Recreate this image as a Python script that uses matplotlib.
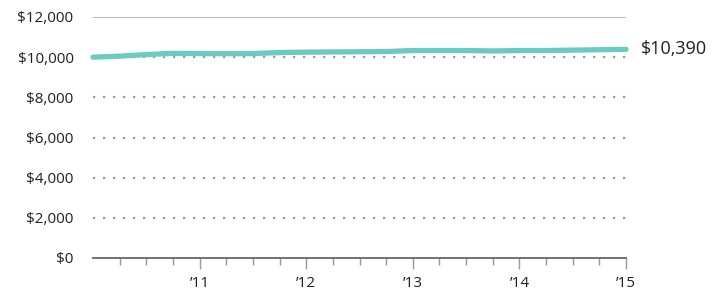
import matplotlib
matplotlib.use("Agg")
import matplotlib.pyplot as plt
import numpy as np

# quarterly values, 2010.0 -> 2015.0
quarters = np.arange(21) / 4.0 + 2010
values = [10000, 10050, 10130, 10190, 10180, 10170, 10180, 10230, 10250, 10260,
          10270, 10280, 10330, 10330, 10330, 10310, 10330, 10330, 10350, 10370, 10390]
y_ticks = [0, 2000, 4000, 6000, 8000, 10000, 12000]
year_ticks = [2011, 2012, 2013, 2014, 2015]
year_labels = ["\u201911", "\u201912", "\u201913", "\u201914", "\u201915"]
end_label = "$10,390"

plt.rcParams['font.family'] = ['Open Sans', 'DejaVu Sans']

fig = plt.figure(figsize=(7.28, 2.92), dpi=100)
ax = fig.add_axes([93/728, 1-258/292, (626-93)/728, (258-17)/292])

grid_col = '#9a9a9a'
for v in y_ticks[1:-1]:
    ax.axhline(v, color=grid_col, linestyle=(0, (1, 3.5)), linewidth=1.6, zorder=1)
ax.axhline(12000, color='#aaaaaa', linewidth=1.2, zorder=1)

ax.plot(quarters, values, color='#6ccbc1', linewidth=3.8, solid_capstyle='round', zorder=3, clip_on=False)
ax.text(2015 + 0.14, values[-1], end_label, fontsize=13, color='#231f20', va='center', ha='left')

ax.set_xlim(2010, 2015)
ax.set_ylim(0, 12000)

for s in ['top', 'right', 'left']:
    ax.spines[s].set_visible(False)
ax.spines['bottom'].set_color('#666666')
ax.spines['bottom'].set_linewidth(1.3)

ax.set_yticks(y_ticks)
ax.set_yticklabels(["${:,}".format(v) for v in y_ticks])
ax.tick_params(axis='y', length=0, pad=14, labelsize=11, labelcolor='#231f20')

ax.set_xticks(year_ticks)
ax.set_xticklabels(year_labels)
ax.set_xticks([q for q in quarters[1:] if q not in year_ticks], minor=True)
ax.tick_params(axis='x', which='major', length=8, width=1, color='#999999', pad=5, labelsize=11, labelcolor='#231f20')
ax.tick_params(axis='x', which='minor', length=5, width=1, color='#999999')

fig.savefig('out.png', dpi=100)
